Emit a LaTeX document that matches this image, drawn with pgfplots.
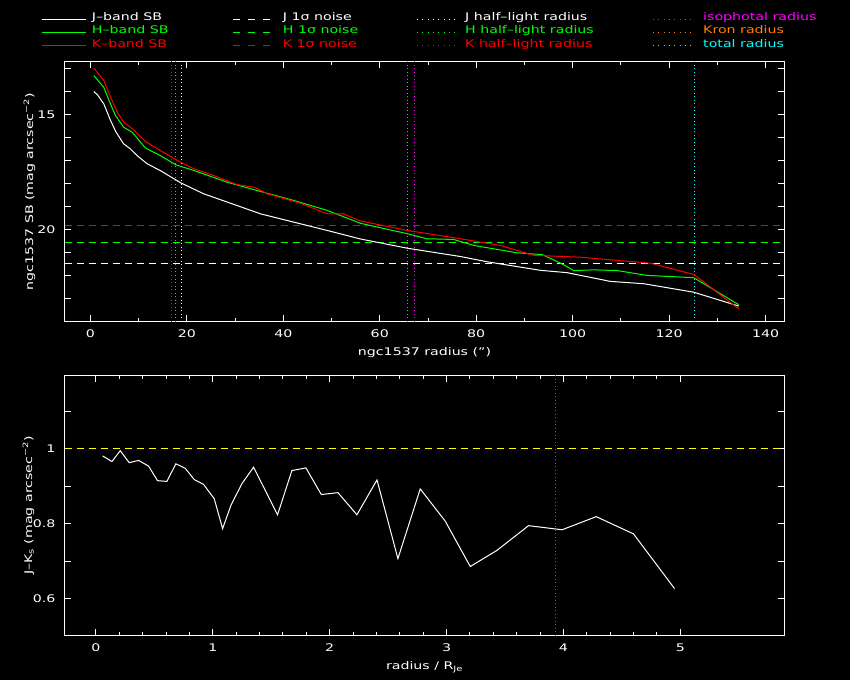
\documentclass[border=0pt]{standalone}
\usepackage{fontspec}
\setmainfont[FakeStretch=1.35]{DejaVu Sans}
\usepackage{pgfplots}
\pgfplotsset{compat=1.18}
\definecolor{pgreen}{RGB}{0,255,0}
\definecolor{pred}{RGB}{255,0,0}
\definecolor{pmag}{RGB}{255,0,255}
\definecolor{porange}{RGB}{255,128,0}
\definecolor{pcyan}{RGB}{0,255,255}
\definecolor{pyellow}{RGB}{255,255,0}

\pgfplotstableread{
r mag
0.73 14.00
1.5 14.15
2.8 14.54
3.6 14.95
4.2 15.26
5.3 15.75
6.9 16.27
8.3 16.49
9.8 16.80
11.8 17.14
14.5 17.43
18.7 17.96
23.5 18.44
28.4 18.80
35.3 19.31
42.2 19.67
49.1 20.03
56.0 20.40
65.7 20.80
76.7 21.16
82.3 21.39
93.3 21.76
98.8 21.86
107.8 22.24
114.7 22.34
125.1 22.71
134.4 23.31
}\Jband

\pgfplotstableread{
r mag
0.73 13.31
2.8 13.82
4.0 14.45
5.2 15.04
6.9 15.55
8.7 15.77
11.4 16.45
14.5 16.78
17.7 17.18
21.5 17.43
28.4 17.94
35.3 18.34
42.2 18.73
49.1 19.16
56.0 19.72
65.7 20.17
69.8 20.39
75.3 20.42
79.5 20.68
88.5 21.00
93.7 21.08
97.5 21.45
100.2 21.77
104.4 21.74
109.2 21.77
115.4 21.98
125.1 22.08
134.4 23.25
}\Hband

\pgfplotstableread{
r mag
0.73 12.99
2.8 13.53
4.2 14.25
5.6 14.90
6.9 15.33
8.7 15.62
11.4 16.17
14.5 16.56
18.7 17.07
21.5 17.36
25.6 17.65
30.4 18.04
33.9 18.15
36.7 18.44
43.6 18.85
49.1 19.31
52.5 19.31
56.0 19.62
65.7 20.03
76.7 20.39
85.0 20.68
91.9 21.11
101.6 21.19
109.2 21.33
116.1 21.45
125.1 21.94
134.4 23.43
}\Kband

\pgfplotstableread{
r jk
0.057 0.981
0.137 0.966
0.208 0.995
0.285 0.963
0.365 0.969
0.450 0.954
0.527 0.915
0.607 0.913
0.684 0.960
0.764 0.948
0.841 0.918
0.921 0.905
1.012 0.867
1.084 0.787
1.155 0.849
1.249 0.907
1.349 0.951
1.554 0.824
1.677 0.942
1.797 0.949
1.928 0.878
2.071 0.883
2.233 0.824
2.405 0.917
2.584 0.707
2.775 0.893
2.989 0.807
3.203 0.686
3.431 0.729
3.702 0.795
3.988 0.784
4.281 0.819
4.600 0.773
4.951 0.627
}\JK

\pgfplotsset{
  pg/.style={
    scale only axis, width=720pt, height=260pt, anchor=south west,
    axis line style={white, line width=1pt},
    every tick/.style={white, line width=1pt},
    tick align=inside,
    major tick length=6.5pt, minor tick length=3.5pt,
    tick label style={text=white, font=\fontsize{10.5pt}{12pt}\selectfont},
    label style={text=white, font=\fontsize{10.5pt}{12pt}\selectfont},
    /pgf/number format/assume math mode=true,
    xticklabel style={anchor=base, inner sep=0pt, yshift=-16.3pt},
    yticklabel style={anchor=east, inner sep=0pt, xshift=-9pt},
    xlabel style={at={(axis description cs:0.5,-0.1308)}, anchor=base},
    clip=true,
  },
  dsh/.style={line width=1pt, dash pattern=on 7pt off 5pt},
  dot/.style={line width=1pt, dash pattern=on 1pt off 2.5pt},
}

\begin{document}
\fontsize{10.5pt}{12pt}\selectfont
\begin{tikzpicture}
\path[use as bounding box] (0,0) rectangle (850pt,680pt);
\fill[black] (0,0) rectangle (850pt,680pt);

% legend
\begin{scope}[line width=1pt]
\draw[white] (41.5pt,660.5pt) -- (85.5pt,660.5pt);
\draw[pgreen] (41.5pt,647.5pt) -- (85.5pt,647.5pt);
\draw[pred] (41.5pt,634.5pt) -- (85.5pt,634.5pt);
\draw[white, dash pattern=on 7pt off 8pt] (233pt,660.5pt) -- (277pt,660.5pt);
\draw[pgreen, dash pattern=on 7pt off 8pt] (233pt,647.5pt) -- (277pt,647.5pt);
\draw[pred, dash pattern=on 7pt off 8pt] (233pt,634.5pt) -- (277pt,634.5pt);
\draw[white, dash pattern=on 1pt off 4.3pt] (417pt,660.5pt) -- (458pt,660.5pt);
\draw[pgreen, dash pattern=on 1pt off 4.3pt] (417pt,647.5pt) -- (458pt,647.5pt);
\draw[pred, dash pattern=on 1pt off 4.3pt] (417pt,634.5pt) -- (458pt,634.5pt);
\draw[pmag, dash pattern=on 1pt off 4.3pt] (653pt,660.5pt) -- (694pt,660.5pt);
\draw[porange, dash pattern=on 1pt off 4.3pt] (653pt,647.5pt) -- (694pt,647.5pt);
\draw[pcyan, dash pattern=on 1pt off 4.3pt] (653pt,634.5pt) -- (694pt,634.5pt);
\end{scope}
\begin{scope}[every node/.style={anchor=base west, inner sep=0pt}]
\node[text=white] at (91.7pt,659.3pt) {J–band SB};
\node[text=pgreen] at (91.7pt,646pt) {H–band SB};
\node[text=pred] at (91.7pt,632.6pt) {K–band SB};
\node[text=white] at (282.7pt,659.3pt) {J 1σ noise};
\node[text=pgreen] at (282.7pt,646pt) {H 1σ noise};
\node[text=pred] at (282.7pt,632.6pt) {K 1σ noise};
\node[text=white] at (465pt,659.3pt) {J half–light radius};
\node[text=pgreen] at (465pt,646pt) {H half–light radius};
\node[text=pred] at (465pt,632.6pt) {K half–light radius};
\node[text=pmag] at (703pt,659.3pt) {isophotal radius};
\node[text=porange] at (703pt,646pt) {Kron radius};
\node[text=pcyan] at (703pt,632.6pt) {total radius};
\end{scope}

% top panel
\begin{axis}[pg, at={(64.5pt,358.5pt)},
  xmin=-5.35, xmax=143.9, ymin=12.70, ymax=23.98, y dir=reverse,
  xtick={0,20,...,140}, minor x tick num=1,
  ytick={13,14,...,23}, yticklabels={,,15,,,,,20,,,},
  xlabel={ngc1537 radius (\symbol{34})},
  ylabel={ngc1537 SB (mag arcsec\textsuperscript{−2})},
  ylabel style={at={(axis description cs:-0.0435,0.5)}, anchor=base, rotate=0},
]
\addplot[dsh, white] coordinates {(-5.35,21.46) (143.9,21.46)};
\addplot[dsh, pgreen] coordinates {(-5.35,20.56) (143.9,20.56)};
\addplot[dsh, pred] coordinates {(-5.35,19.81) (143.9,19.81)};
\addplot[dot, pred] coordinates {(16.8,12.70) (16.8,23.98)};
\addplot[dot, pgreen] coordinates {(17.7,12.70) (17.7,23.98)};
\addplot[dot, white] coordinates {(18.8,12.70) (18.8,23.98)};
\addplot[dot, porange] coordinates {(65.8,12.70) (65.8,23.98)};
\addplot[dot, pmag] coordinates {(67.3,12.70) (67.3,23.98)};
\addplot[dot, pcyan] coordinates {(125.3,12.70) (125.3,23.98)};
\addplot[white, line width=1pt] table[x=r, y=mag] {\Jband};
\addplot[pgreen, line width=1pt] table[x=r, y=mag] {\Hband};
\addplot[pred, line width=1pt] table[x=r, y=mag] {\Kband};
\end{axis}

% bottom panel
\begin{axis}[pg, at={(64.5pt,44.5pt)},
  xmin=-0.269, xmax=5.892, ymin=0.502, ymax=1.1955,
  xtick={0,1,...,5}, minor x tick num=4,
  ytick={0.6,0.7,0.8,0.9,1.0,1.1}, yticklabels={0.6,,0.8,,1,},
  xlabel={radius / R\textsubscript{Je}},
  ylabel={J–K\textsubscript{s} (mag arcsec\textsuperscript{−2})},
  ylabel style={at={(axis description cs:-0.0451,0.5)}, anchor=base, rotate=0},
]
\addplot[dsh, pyellow] coordinates {(-0.269,1.0) (5.892,1.0)};
\addplot[dot, pmag] coordinates {(3.93,0.502) (3.93,1.1955)};
\addplot[white, line width=1pt] table[x=r, y=jk] {\JK};
\end{axis}
\end{tikzpicture}
\end{document}
